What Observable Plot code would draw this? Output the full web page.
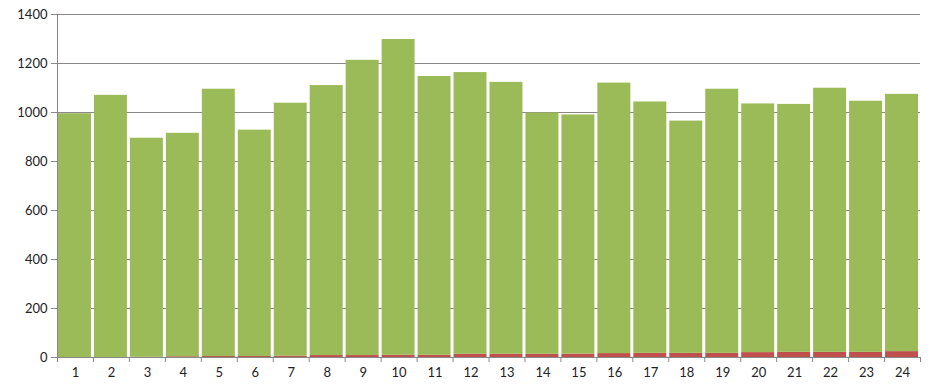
<!DOCTYPE html>
<html>
<head>
<meta charset="utf-8">
<script src="https://cdn.jsdelivr.net/npm/d3@7"></script>
<script src="https://cdn.jsdelivr.net/npm/@observablehq/plot@0.6"></script>
<style>
  html, body { margin: 0; padding: 0; background: #fff; }
  svg { display: block; }
</style>
</head>
<body>
<div id="chart"></div>
<script>
const hours = [1,2,3,4,5,6,7,8,9,10,11,12,13,14,15,16,17,18,19,20,21,22,23,24];
const redValues = [0,0,1,3,4,4,5,8,8,9,9,13,13,13,14,16,17,17,17,20,21,21,21,24];
const greenValues = [995,1070,894,912,1091,924,1033,1102,1205,1289,1138,1150,1110,985,976,1104,1026,948,1078,1015,1012,1078,1025,1050];
const yTicks = [0,200,400,600,800,1000,1200,1400];
const seriesNames = ["Series B", "Series A"];
const seriesColors = ["#C0504D", "#9BBB59"];

const data = [
  ...hours.map((h, i) => ({hour: h, series: seriesNames[0], value: redValues[i]})),
  ...hours.map((h, i) => ({hour: h, series: seriesNames[1], value: greenValues[i]}))
];

const boundaries = d3.range(0, hours.length + 1);
const centers = hours.map(h => h - 0.5);

const chart = Plot.plot({
  width: 940,
  height: 388,
  marginTop: 14,
  marginBottom: 31,
  marginLeft: 57,
  marginRight: 20,
  style: {fontFamily: "Lato, sans-serif", fontSize: "13px", color: "#222", background: "#fff"},
  x: {domain: [0, hours.length], axis: null, label: null},
  y: {domain: [0, 1400], axis: null, label: null},
  color: {domain: seriesNames, range: seriesColors},
  marks: [
    Plot.gridY(yTicks, {stroke: "#888", strokeOpacity: 1, strokeWidth: 1}),
    Plot.rectY(data, Plot.stackY({
      x1: d => d.hour - 1,
      x2: d => d.hour,
      y: "value",
      fill: "series",
      insetLeft: 1,
      insetRight: 2
    })),
    Plot.ruleY([0], {stroke: "#888"}),
    Plot.ruleX([0], {stroke: "#888"}),
    Plot.axisY(yTicks, {tickSize: 6, tickPadding: 4, stroke: "#888", fill: "#222", fontSize: 13, label: null, tickFormat: d => String(d)}),
    Plot.axisX(boundaries, {tickSize: 5, tickFormat: () => "", stroke: "#888", label: null}),
    Plot.axisX(centers, {tickSize: 0, tickPadding: 10, tickFormat: d => String(d + 0.5), fill: "#222", fontSize: 13, label: null})
  ]
});
document.getElementById("chart").append(chart);
</script>
</body>
</html>
